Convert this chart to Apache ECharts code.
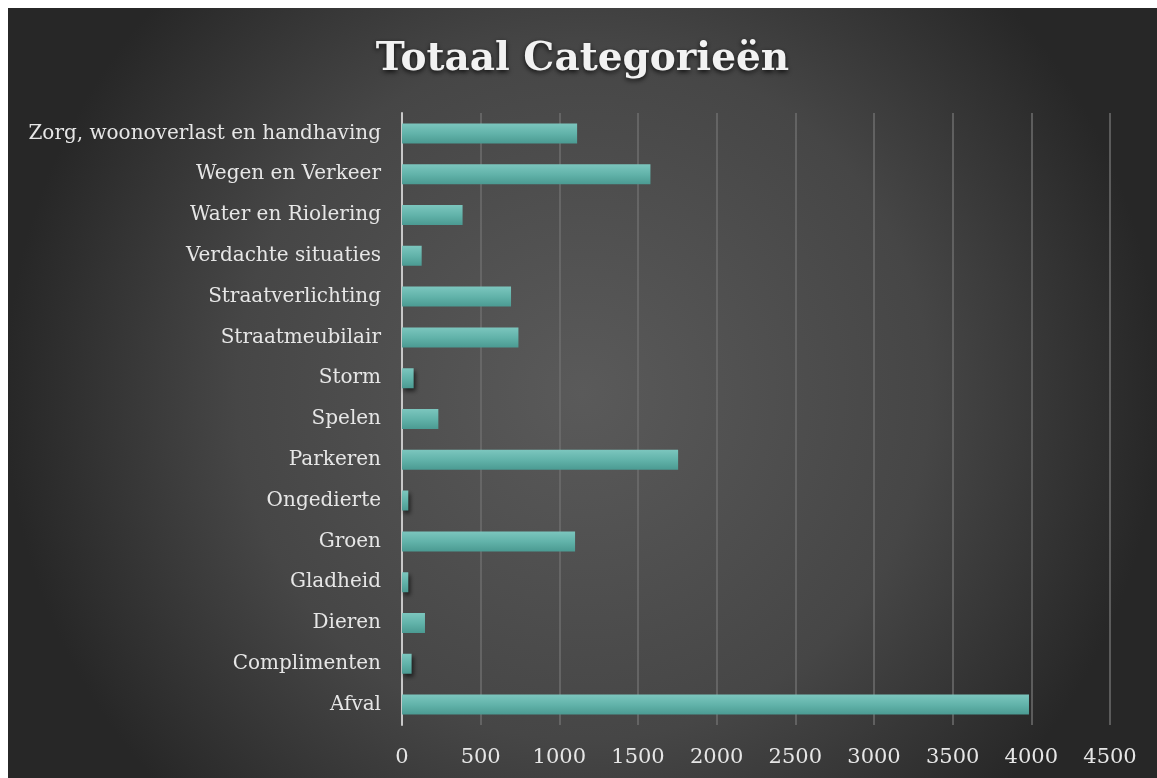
<!DOCTYPE html>
<html>
<head>
<meta charset="utf-8">
<title>Totaal Categorieën</title>
<script src="https://cdn.jsdelivr.net/npm/echarts@6/dist/echarts.min.js"></script>
<style>
  html, body { margin: 0; padding: 0; background: #fff; }
  #chart { position: absolute; left: 8px; top: 8px; width: 1149px; height: 770px; }
</style>
</head>
<body>
<div id="chart"></div>
<script>
// categories top -> bottom as in the picture
var categories = ["Zorg, woonoverlast en handhaving", "Wegen en Verkeer", "Water en Riolering",
  "Verdachte situaties", "Straatverlichting", "Straatmeubilair", "Storm", "Spelen", "Parkeren",
  "Ongedierte", "Groen", "Gladheid", "Dieren", "Complimenten", "Afval"];
var totals = [1113, 1579, 385, 125, 693, 740, 74, 231, 1755, 40, 1100, 40, 146, 61, 3985];

var serif = "'DejaVu Serif', 'Liberation Serif', serif";

var myChart = echarts.init(document.getElementById("chart"));
var option = {
  backgroundColor: {
    type: "radial", x: 0.5, y: 0.5, r: 0.75,
    colorStops: [{ offset: 0, color: "#5a5a5a" }, { offset: 0.6, color: "#464646" }, { offset: 1, color: "#272727" }]
  },
  title: {
    text: "Totaal Categorieën",
    left: "center",
    top: 27,
    textStyle: {
      color: "#f2f2f2", fontFamily: serif, fontWeight: "bold", fontSize: 39,
      textShadowColor: "rgba(0,0,0,0.8)", textShadowBlur: 5, textShadowOffsetY: 2
    }
  },
  grid: { left: 394, right: 47, top: 105, bottom: 53, containLabel: false },
  xAxis: {
    type: "value", min: 0, max: 4500, interval: 500,
    axisLine: { show: false },
    axisTick: { show: false },
    axisLabel: { color: "#e6e6e6", fontFamily: serif, fontSize: 21, margin: 22, formatter: function(v) { return String(v) } },
    splitLine: { lineStyle: { color: "#6e6e6e", width: 1.5 } }
  },
  yAxis: {
    type: "category", data: categories, inverse: true,
    axisLine: { lineStyle: { color: "#c8c8c8", width: 2 } },
    axisTick: { show: false },
    axisLabel: { color: "#e6e6e6", fontFamily: serif, fontSize: 20, margin: 21 }
  },
  series: [{
    type: "bar", data: totals, barWidth: 20,
    itemStyle: {
      color: {
        type: "linear", x: 0, y: 0, x2: 0, y2: 1,
        colorStops: [{ offset: 0, color: "#7cc6be" }, { offset: 0.5, color: "#62b3aa" }, { offset: 1, color: "#4b9a92" }]
      },
      shadowColor: "rgba(0,0,0,0.6)", shadowBlur: 4, shadowOffsetX: 2, shadowOffsetY: 3
    }
  }]
};
myChart.setOption(option);
</script>
</body>
</html>
